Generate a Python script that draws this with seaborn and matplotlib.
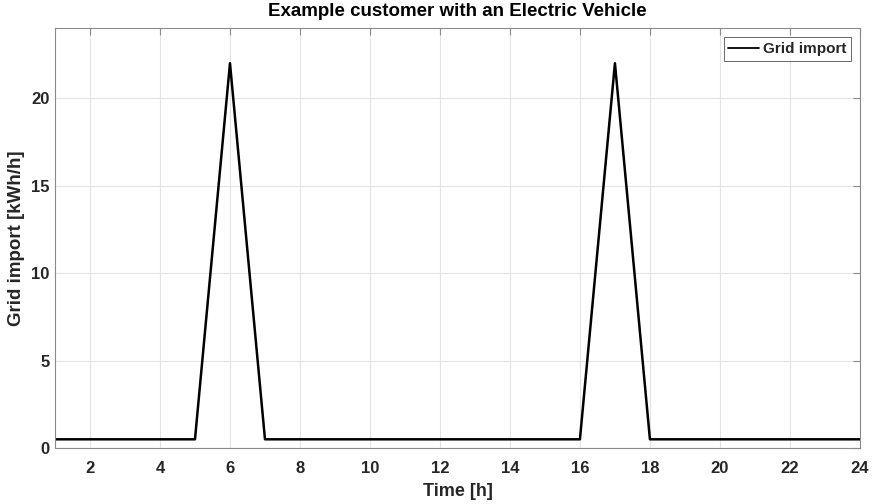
import matplotlib
matplotlib.use("Agg")
import matplotlib.pyplot as plt
import seaborn as sns
import pandas as pd

hours = list(range(1, 25))
grid_import = [0.5, 0.5, 0.5, 0.5, 0.5, 22, 0.5, 0.5, 0.5, 0.5, 0.5, 0.5,
               0.5, 0.5, 0.5, 0.5, 22, 0.5, 0.5, 0.5, 0.5, 0.5, 0.5, 0.5]
xticks = list(range(2, 25, 2))
yticks = [0, 5, 10, 15, 20]

sns.set_theme(style="white")
plt.rcParams['font.family'] = ['Liberation Sans', 'DejaVu Sans']
plt.rcParams['font.weight'] = 'bold'

df = pd.DataFrame({"Time": hours, "Grid import": grid_import})

fig = plt.figure(figsize=(8.73, 5.04), dpi=100)
ax = fig.add_axes([0.063, 0.111, 0.922, 0.833])

sns.lineplot(data=df, x="Time", y="Grid import", ax=ax, color="black",
             linewidth=1.8, label="Grid import")

ax.set_xlim(1, 24)
ax.set_ylim(0, 24)
ax.set_xticks(xticks)
ax.set_yticks(yticks)
ax.grid(True, color="#e3e3e3", linewidth=0.8)
ax.set_axisbelow(True)
for s in ax.spines.values():
    s.set_color("#8a8a8a")
    s.set_linewidth(0.8)
ax.tick_params(direction="in", top=True, right=True, length=5, width=0.8,
               color="#8a8a8a", labelsize=12, labelcolor="#262626")
ax.tick_params(axis="x", pad=9)
ax.tick_params(axis="y", pad=4)
for lab in ax.get_xticklabels() + ax.get_yticklabels():
    lab.set_fontweight("bold")

ax.set_xlabel("Time [h]", fontsize=13, fontweight="bold", color="#262626", labelpad=5)
ax.set_ylabel("Grid import [kWh/h]", fontsize=13.5, fontweight="bold", color="#262626", labelpad=4)
ax.set_title("Example customer with an Electric Vehicle", fontsize=13.5,
             fontweight="bold", color="black", pad=9)

leg = ax.legend(loc="upper right", frameon=True, fancybox=False,
                edgecolor="#262626", borderpad=0.3, handlelength=2.0,
                handletextpad=0.25, borderaxespad=0.6,
                prop={"weight": "bold", "size": 11})
leg.get_frame().set_linewidth(0.6)
for h in leg.get_lines():
    h.set_linewidth(1.3)

fig.savefig("out.png", dpi=100)
